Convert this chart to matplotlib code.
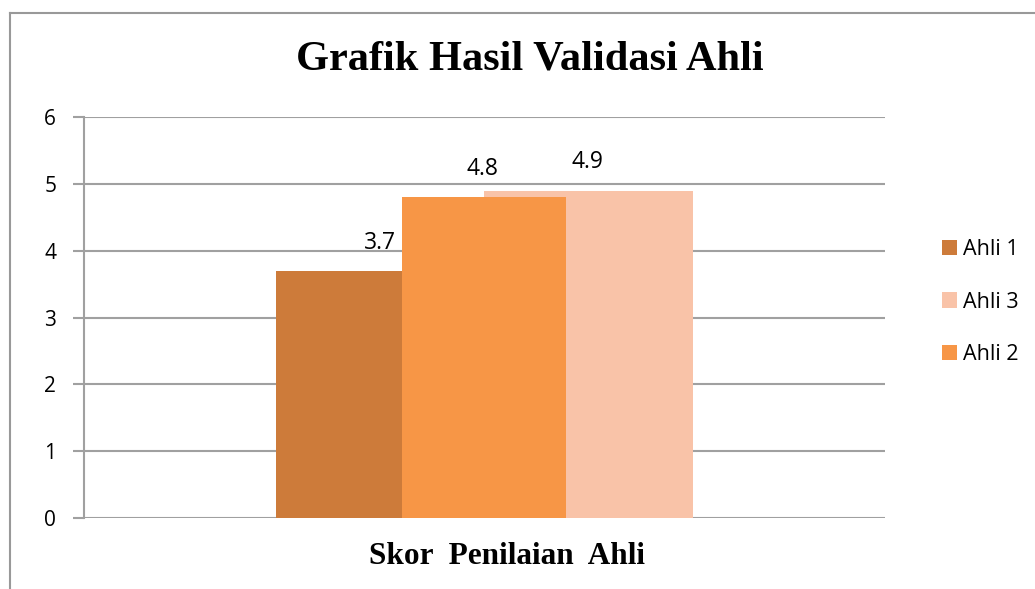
import matplotlib.pyplot as plt
from matplotlib.lines import Line2D

# data
labels = ["Ahli 1", "Ahli 2", "Ahli 3"]
scores = [3.7, 4.8, 4.9]
colors = ["#CD7B3A", "#F79646", "#F9C3A8"]
legend_order = ["Ahli 1", "Ahli 3", "Ahli 2"]
yticks = [0, 1, 2, 3, 4, 5, 6]

# layout of the overlapping bars (axes fraction of the x range)
lefts = [0.240, 0.397, 0.499]
widths = [0.157, 0.205, 0.261]
label_x = [0.370, 0.498, 0.628]
zorders = [3, 4, 2]

fig = plt.figure(figsize=(10.35, 5.89), dpi=100)
ax = fig.add_axes([84 / 1035, 1 - 518 / 589, 801 / 1035, 401 / 589])

bars = {}
for lab, v, c, l, w, z in zip(labels, scores, colors, lefts, widths, zorders):
    bars[lab] = ax.bar(l, v, width=w, align='edge', color=c, zorder=z, label=lab)

for v, x in zip(scores, label_x):
    ax.text(x, v + 0.42, f"{v}", ha='center', va='center', fontsize=16.5,
            family='Open Sans', zorder=6)

ax.set_xlim(0, 1)
ax.set_ylim(0, 6)
ax.set_yticks(yticks)
ax.set_yticklabels([str(t) for t in yticks], family='Open Sans', fontsize=15)
ax.set_xticks([])
ax.yaxis.grid(True, color='#A0A0A0', linewidth=1.5, zorder=0)
ax.set_axisbelow(True)
for s in ['top', 'right', 'bottom']:
    ax.spines[s].set_visible(False)
ax.spines['left'].set_color('#A0A0A0')
ax.spines['left'].set_linewidth(1.5)
ax.tick_params(axis='y', length=8, width=1.5, color='#A0A0A0', pad=12)

fig.text(530 / 1035, 1 - 60 / 589, "Grafik Hasil Validasi Ahli", ha='center', va='center',
         family='Liberation Serif', fontweight='bold', fontsize=30.5)
fig.text(507 / 1035, 1 - 557 / 589, "Skor  Penilaian  Ahli", ha='center', va='center',
         family='Liberation Serif', fontweight='bold', fontsize=22.5)

leg = ax.legend([bars[n] for n in legend_order], legend_order, loc='center left',
                bbox_to_anchor=(931 / 1035, 1 - 302 / 589), bbox_transform=fig.transFigure,
                frameon=False, prop={'family': 'Open Sans', 'size': 15.5},
                handlelength=0.7, handleheight=0.7, handletextpad=0.3, labelspacing=1.45,
                borderpad=0)

# outer chart border (left and top only visible)
fig.add_artist(Line2D([10 / 1035, 10 / 1035], [0, 1 - 13 / 589], color='#999999', lw=1.5))
fig.add_artist(Line2D([10 / 1035, 1], [1 - 13 / 589, 1 - 13 / 589], color='#999999', lw=1.5))

fig.savefig('out.png', dpi=100)
